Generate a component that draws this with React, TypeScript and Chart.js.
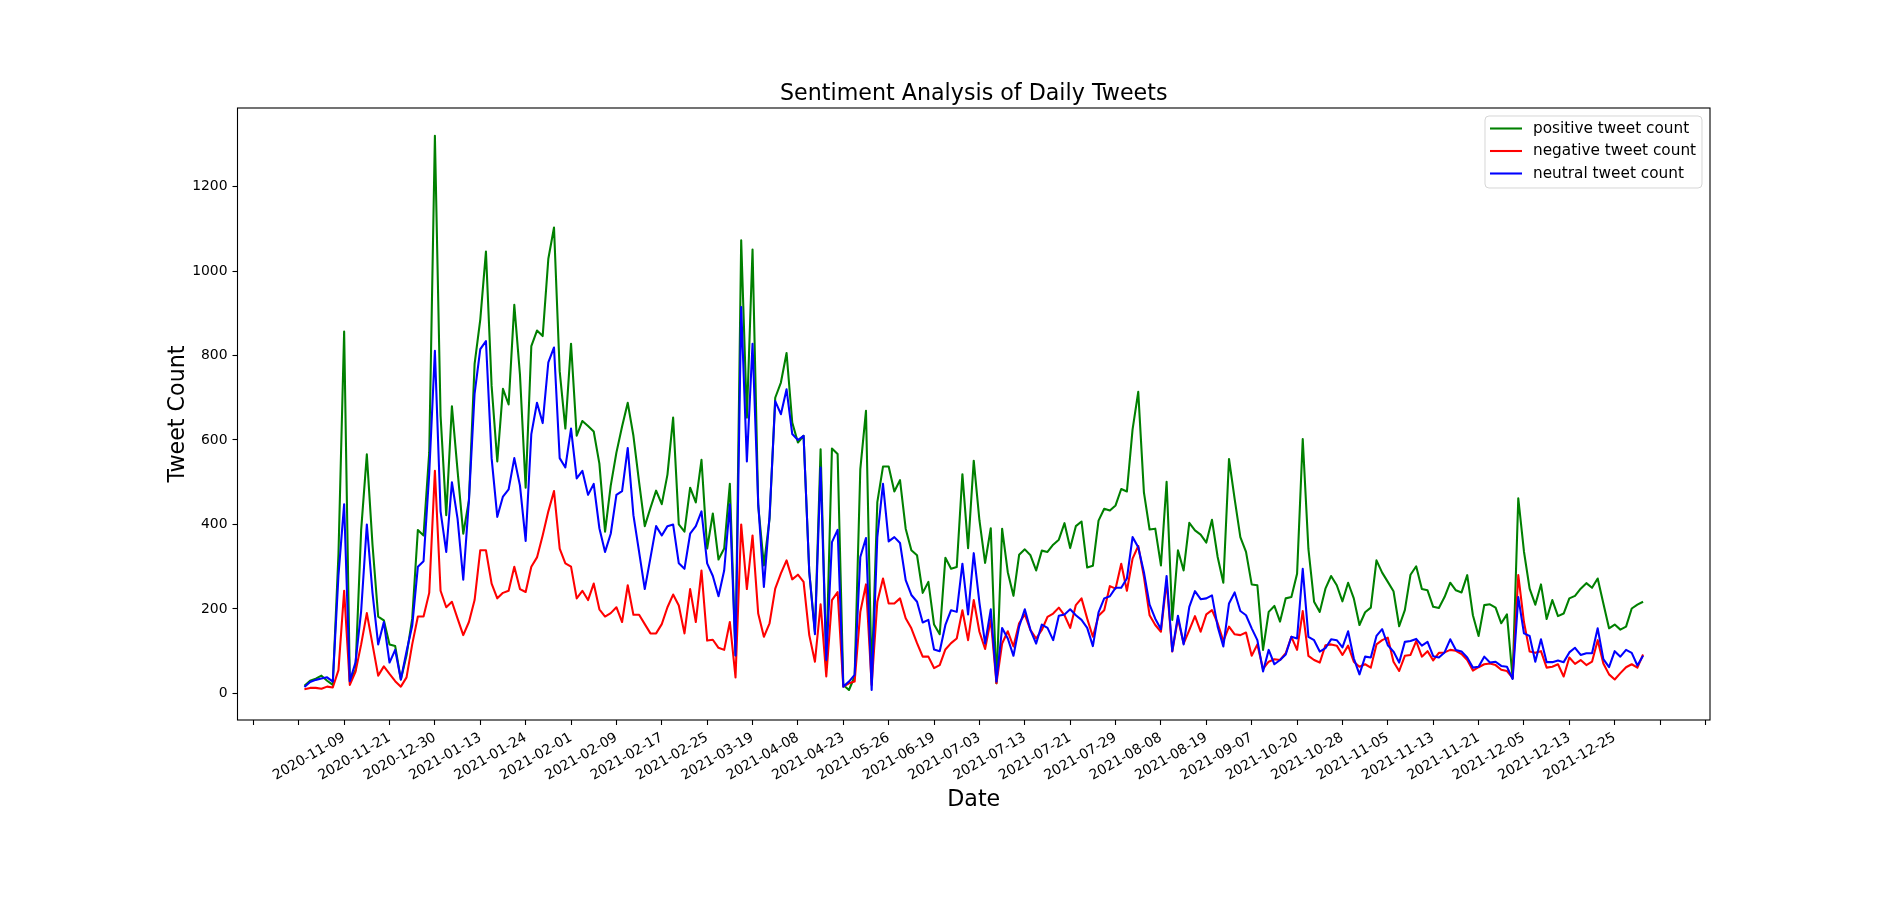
import React, { useEffect, useRef } from 'react';
import { Chart, registerables } from 'chart.js';

Chart.register(...registerables);

const TITLE = 'Sentiment Analysis of Daily Tweets';
const X_LABEL = 'Date';
const Y_LABEL = 'Tweet Count';
const SERIES_NAMES = ['positive tweet count', 'negative tweet count', 'neutral tweet count'];
const SERIES_COLORS = ['#008000', '#ff0000', '#0000ff'];

const tickLabels = [
  '2020-11-09', '2020-11-21', '2020-12-30', '2021-01-13', '2021-01-24', '2021-02-01',
  '2021-02-09', '2021-02-17', '2021-02-25', '2021-03-19', '2021-04-08', '2021-04-23',
  '2021-05-26', '2021-06-19', '2021-07-03', '2021-07-13', '2021-07-21', '2021-07-29',
  '2021-08-08', '2021-08-19', '2021-09-07', '2021-10-20', '2021-10-28', '2021-11-05',
  '2021-11-13', '2021-11-21', '2021-12-05', '2021-12-13', '2021-12-25',
];
const FIRST_LABELED_INDEX = 7;
const TICK_STEP = 8;

const yTicks = [0, 200, 400, 600, 800, 1000, 1200];
const Y_MIN = -63;
const Y_MAX = 1386;

const positive = [
  18, 30, 35, 42, 30, 20, 330, 857, 29, 55,
  387, 566, 352, 182, 173, 116, 112, 33, 90, 177,
  387, 374, 570, 1320, 658, 422, 680, 527, 378, 457,
  780, 885, 1046, 728, 549, 721, 684, 920, 754, 487,
  822, 859, 846, 1029, 1103, 763, 627, 828, 610, 645,
  633, 620, 544, 383, 492, 570, 632, 688, 610, 500,
  396, 439, 480, 448, 518, 653, 400, 383, 487, 452,
  553, 343, 426, 317, 343, 496, 90, 1073, 653, 1051,
  445, 303, 413, 700, 736, 806, 641, 594, 610, 288,
  146, 578, 75, 580, 567, 20, 8, 40, 531, 669,
  36, 453, 537, 537, 478, 505, 390, 339, 327, 238,
  264, 163, 140, 321, 295, 299, 519, 344, 551, 410,
  309, 391, 24, 390, 287, 231, 328, 341, 327, 291,
  338, 335, 352, 364, 403, 344, 396, 407, 298, 302,
  409, 437, 433, 445, 484, 478, 625, 714, 476, 388,
  390, 303, 501, 174, 339, 291, 404, 386, 376, 357,
  411, 323, 262, 555, 460, 370, 335, 258, 256, 103,
  193, 207, 170, 225, 228, 283, 602, 342, 217, 193,
  248, 278, 256, 218, 262, 225, 162, 192, 203, 315,
  286, 264, 242, 159, 197, 281, 301, 247, 244, 205,
  202, 228, 262, 244, 239, 280, 185, 136, 209, 211,
  203, 166, 187, 36, 462, 336, 248, 210, 258, 176,
  221, 183, 189, 225, 231, 248, 261, 250, 272, 213,
  154, 163, 151, 158, 201, 210, 217,
];

const negative = [
  10, 13, 13, 11, 16, 14, 55, 243, 20, 51,
  116, 190, 116, 42, 64, 46, 29, 16, 38, 116,
  182, 182, 238, 527, 243, 204, 217, 177, 138, 169,
  221, 339, 339, 260, 225, 238, 243, 300, 247, 240,
  300, 322, 374, 431, 479, 343, 308, 300, 225, 243,
  221, 260, 199, 182, 190, 204, 169, 256, 186, 186,
  164, 142, 142, 164, 204, 234, 208, 142, 247, 169,
  291, 125, 127, 108, 103, 169, 38, 400, 247, 374,
  189, 134, 166, 248, 284, 315, 270, 281, 264, 138,
  75, 211, 40, 221, 240, 16, 24, 28, 193, 258,
  20, 217, 272, 213, 213, 225, 178, 154, 119, 87,
  87, 60, 67, 104, 119, 130, 197, 126, 221, 146,
  105, 175, 24, 118, 147, 111, 166, 187, 150, 130,
  150, 181, 189, 203, 185, 155, 209, 225, 177, 134,
  184, 197, 254, 248, 307, 243, 319, 349, 276, 185,
  162, 146, 265, 99, 177, 118, 150, 183, 146, 187,
  197, 166, 124, 158, 140, 138, 144, 89, 116, 58,
  75, 81, 79, 95, 134, 103, 195, 89, 79, 73,
  114, 116, 113, 91, 113, 75, 63, 69, 61, 116,
  126, 132, 75, 53, 89, 91, 124, 87, 100, 78,
  96, 97, 103, 101, 93, 79, 54, 62, 69, 71,
  67, 56, 53, 37, 280, 169, 99, 96, 100, 61,
  63, 69, 40, 85, 70, 79, 67, 75, 126, 71,
  45, 33, 48, 62, 69, 61, 92,
];

const neutral = [
  15, 27, 32, 35, 38, 28, 280, 448, 29, 73,
  195, 400, 238, 116, 169, 73, 103, 33, 99, 160,
  300, 313, 520, 811, 431, 335, 500, 413, 269, 457,
  710, 815, 834, 557, 418, 466, 483, 557, 492, 361,
  614, 688, 640, 784, 819, 557, 535, 627, 509, 527,
  470, 496, 391, 335, 378, 470, 479, 581, 422, 335,
  247, 321, 396, 374, 396, 400, 308, 295, 378, 396,
  431, 308, 278, 230, 291, 448, 90, 915, 549, 828,
  450, 252, 420, 692, 661, 720, 614, 600, 610, 288,
  140, 535, 79, 358, 387, 16, 28, 44, 323, 368,
  8, 370, 496, 360, 370, 356, 268, 233, 217, 168,
  174, 104, 100, 162, 197, 193, 307, 187, 332, 215,
  118, 199, 28, 155, 130, 89, 158, 199, 150, 118,
  163, 155, 126, 184, 187, 199, 185, 174, 155, 112,
  192, 225, 230, 250, 250, 272, 370, 346, 287, 210,
  177, 152, 278, 100, 184, 116, 205, 242, 223, 225,
  232, 158, 111, 213, 239, 195, 185, 154, 126, 52,
  103, 69, 79, 92, 134, 130, 295, 134, 126, 99,
  107, 128, 126, 109, 147, 83, 45, 87, 85, 136,
  152, 114, 99, 73, 122, 124, 129, 113, 122, 88,
  85, 97, 128, 103, 99, 85, 61, 63, 87, 73,
  75, 65, 63, 34, 228, 142, 136, 75, 128, 74,
  74, 78, 74, 97, 108, 91, 95, 95, 154, 81,
  62, 100, 87, 103, 96, 66, 89,
];

const FONT = "'DejaVu Sans', 'Liberation Sans', sans-serif";

const overlayPlugin = {
  id: 'mplOverlay',
  afterDraw(chart: any) {
    const { ctx, chartArea: a } = chart;
    ctx.save();
    // frame (all four spines)
    ctx.strokeStyle = '#000';
    ctx.lineWidth = 1.1;
    ctx.strokeRect(a.left, a.top, a.right - a.left, a.bottom - a.top);

    // title and axis labels
    ctx.fillStyle = '#000';
    ctx.font = `22.2px ${FONT}`;
    ctx.textAlign = 'center';
    ctx.textBaseline = 'alphabetic';
    const cx = (a.left + a.right) / 2;
    ctx.fillText(TITLE, cx, a.top - 8.3);
    ctx.fillText(X_LABEL, cx, a.bottom + 86);
    ctx.save();
    ctx.translate(184, (a.top + a.bottom) / 2);
    ctx.rotate(-Math.PI / 2);
    ctx.fillText(Y_LABEL, 0, 0);
    ctx.restore();

    // legend
    const boxW = 217;
    const boxH = 72;
    const bx = a.right - 8 - boxW;
    const by = a.top + 8;
    const r = 4;
    ctx.beginPath();
    ctx.moveTo(bx + r, by);
    ctx.lineTo(bx + boxW - r, by);
    ctx.quadraticCurveTo(bx + boxW, by, bx + boxW, by + r);
    ctx.lineTo(bx + boxW, by + boxH - r);
    ctx.quadraticCurveTo(bx + boxW, by + boxH, bx + boxW - r, by + boxH);
    ctx.lineTo(bx + r, by + boxH);
    ctx.quadraticCurveTo(bx, by + boxH, bx, by + boxH - r);
    ctx.lineTo(bx, by + r);
    ctx.quadraticCurveTo(bx, by, bx + r, by);
    ctx.closePath();
    ctx.fillStyle = 'rgba(255,255,255,0.8)';
    ctx.fill();
    ctx.strokeStyle = 'rgba(204,204,204,0.8)';
    ctx.lineWidth = 1;
    ctx.stroke();

    ctx.font = `15.3px ${FONT}`;
    ctx.textAlign = 'left';
    ctx.textBaseline = 'middle';
    SERIES_NAMES.forEach((name, i) => {
      const y = by + 12.5 + i * 22.5;
      ctx.strokeStyle = SERIES_COLORS[i];
      ctx.lineWidth = 2.08;
      ctx.beginPath();
      ctx.moveTo(bx + 5, y);
      ctx.lineTo(bx + 37, y);
      ctx.stroke();
      ctx.fillStyle = '#000';
      ctx.fillText(name, bx + 48, y + 0.5);
    });
    ctx.restore();
  },
};

export default function App() {
  const ref = useRef<HTMLCanvasElement>(null);

  useEffect(() => {
    if (!ref.current) return;
    const n = positive.length;
    const xMin = -0.05 * (n - 1);
    const xMax = 1.05 * (n - 1);
    let start = FIRST_LABELED_INDEX;
    while (start - TICK_STEP >= xMin) start -= TICK_STEP;
    const tickPositions: number[] = [];
    for (let v = start; v <= xMax; v += TICK_STEP) tickPositions.push(v);

    const seriesValues = [positive, negative, neutral];
    const orders = [2, 1, 0];

    const chart = new Chart(ref.current, {
      type: 'line',
      data: {
        datasets: seriesValues.map((vals, k) => ({
          label: SERIES_NAMES[k],
          data: vals.map((y, x) => ({ x, y })),
          borderColor: SERIES_COLORS[k],
          backgroundColor: SERIES_COLORS[k],
          borderWidth: 2.08,
          pointRadius: 0,
          pointHoverRadius: 0,
          tension: 0,
          fill: false,
          borderJoinStyle: 'round',
          order: orders[k],
        })),
      },
      options: {
        animation: false,
        responsive: false,
        devicePixelRatio: 1,
        events: [],
        layout: { padding: { top: 108, right: 190, left: 0, bottom: 0 } },
        plugins: {
          legend: { display: false },
          title: { display: false },
          tooltip: { enabled: false },
        },
        scales: {
          x: {
            type: 'linear',
            min: xMin,
            max: xMax,
            afterBuildTicks: (scale: any) => {
              scale.ticks = tickPositions.map((value) => ({ value }));
            },
            afterFit: (scale: any) => {
              scale.height = 180;
            },
            grid: {
              drawOnChartArea: false,
              drawTicks: true,
              tickLength: 5,
              tickColor: '#000',
              tickWidth: 1.1,
            },
            border: { display: false },
            ticks: {
              autoSkip: false,
              minRotation: 30,
              maxRotation: 30,
              padding: 4.4,
              color: '#000',
              font: { family: FONT, size: 13.9 },
              callback: (value: any) => {
                const m = (Number(value) - FIRST_LABELED_INDEX) / TICK_STEP;
                if (Number.isInteger(m) && m >= 0 && m < tickLabels.length) return tickLabels[m];
                return '';
              },
            },
          },
          y: {
            type: 'linear',
            min: Y_MIN,
            max: Y_MAX,
            afterBuildTicks: (scale: any) => {
              scale.ticks = yTicks.map((value) => ({ value }));
            },
            afterFit: (scale: any) => {
              scale.width = 237.5;
            },
            grid: {
              drawOnChartArea: false,
              drawTicks: true,
              tickLength: 5,
              tickColor: '#000',
              tickWidth: 1.1,
            },
            border: { display: false },
            ticks: {
              padding: 5,
              color: '#000',
              font: { family: FONT, size: 13.9 },
              callback: (value: any) => String(value),
            },
          },
        },
      },
      plugins: [overlayPlugin],
    } as any);

    return () => chart.destroy();
  }, []);

  return (
    <div style={{ position: 'absolute', left: 0, top: 0, width: 1900, height: 900, background: '#fff' }}>
      <canvas ref={ref} width={1900} height={900} style={{ display: 'block', width: 1900, height: 900 }} />
    </div>
  );
}
